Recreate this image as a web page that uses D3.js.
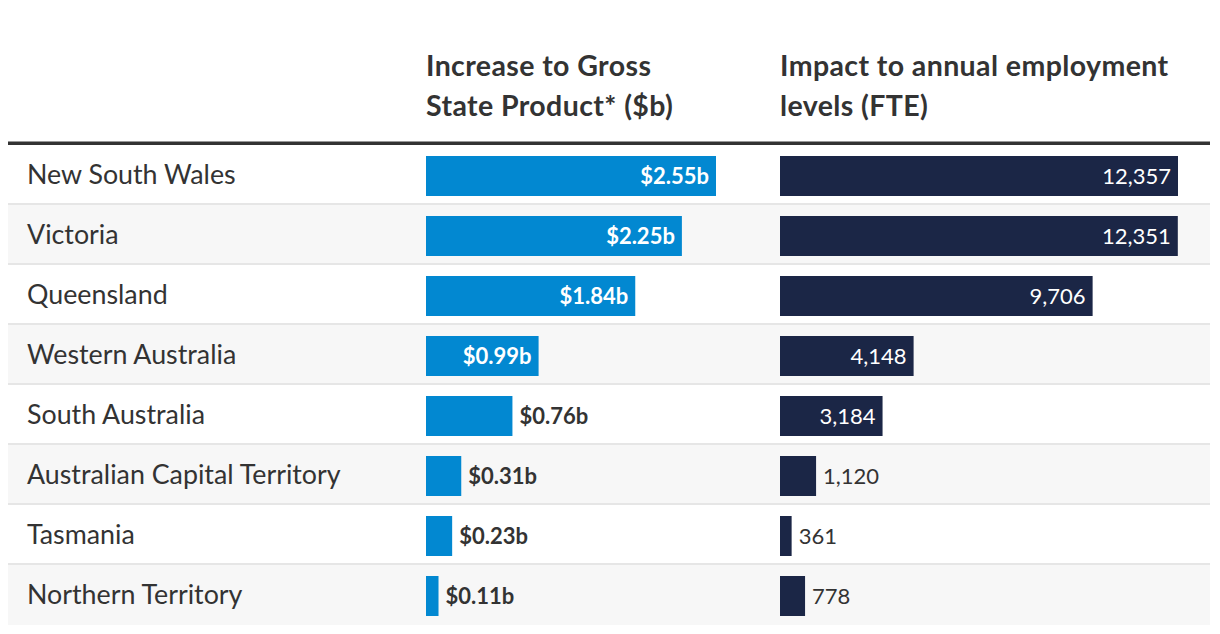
<!DOCTYPE html>
<html>
<head>
<meta charset="utf-8">
<script src="https://cdn.jsdelivr.net/npm/d3@7"></script>
<style>
  html, body { margin: 0; padding: 0; background: #fff; }
  svg { display: block; }
  text { font-family: Lato, "Noto Sans", sans-serif; }
</style>
</head>
<body>
<svg id="chart" width="1220" height="634"></svg>
<script>
// ---- Data ----
const states = ["New South Wales", "Victoria", "Queensland", "Western Australia",
                "South Australia", "Australian Capital Territory", "Tasmania", "Northern Territory"];
const gspValues = [2.55, 2.25, 1.84, 0.99, 0.76, 0.31, 0.23, 0.11];
const fteValues = [12357, 12351, 9706, 4148, 3184, 1120, 361, 778];
const gspTitle = ["Increase to Gross", "State Product* ($b)"];
const fteTitle = ["Impact to annual employment", "levels (FTE)"];

const rows = states.map((s, i) => ({ state: s, gsp: gspValues[i], fte: fteValues[i], i }));

// ---- Layout ----
const left = 8, right = 1210;
const rowTop = 145, rowH = 60;
const svg = d3.select("#chart");

const y = d3.scaleBand().domain(states).range([rowTop, rowTop + rowH * states.length]).padding(0);
const barY = d3.scaleBand().domain(states).range([rowTop, rowTop + rowH * states.length])
  .paddingInner(1/3).paddingOuter(1/6);

const xG = d3.scaleLinear().domain([0, d3.max(gspValues)]).range([426, 716]);
const xF = d3.scaleLinear().domain([0, d3.max(fteValues)]).range([780, 1178]);

// Row backgrounds
svg.append("g").selectAll("rect").data(rows).join("rect")
  .attr("x", left).attr("width", right - left)
  .attr("y", d => y(d.state)).attr("height", rowH)
  .attr("fill", d => d.i % 2 === 1 ? "#f7f7f7" : "#ffffff");

// Row separators
svg.append("g").selectAll("rect").data(rows.slice(0, -1)).join("rect")
  .attr("x", left).attr("width", right - left)
  .attr("y", d => y(d.state) + rowH - 2).attr("height", 2)
  .attr("fill", "#e6e6e6");

// Header line
svg.append("rect").attr("x", left).attr("width", right - left)
  .attr("y", 141.5).attr("height", 3.5).attr("fill", "#333333");

// Headers
function header(lines, x) {
  const t = svg.append("text").attr("x", x).attr("y", 76)
    .attr("fill", "#333333").attr("font-weight", 700).attr("font-size", 28.5)
    .attr("letter-spacing", 0.4);
  lines.forEach((l, k) => t.append("tspan").attr("x", x).attr("y", 76 + k * 40).text(l));
}
header(gspTitle, 426);
header(fteTitle, 780);

// State labels
svg.append("g").selectAll("text").data(rows).join("text")
  .attr("x", 27).attr("y", d => y(d.state) + 29 + 9.5)
  .attr("fill", "#333333").attr("font-size", 26.8)
  .text(d => d.state);

// GSP bars
svg.append("g").selectAll("rect").data(rows).join("rect")
  .attr("x", xG(0)).attr("y", d => barY(d.state) + 1)
  .attr("width", d => xG(d.gsp) - xG(0)).attr("height", barY.bandwidth())
  .attr("fill", "#0288d1");

// FTE bars
svg.append("g").selectAll("rect").data(rows).join("rect")
  .attr("x", xF(0)).attr("y", d => barY(d.state) + 1)
  .attr("width", d => xF(d.fte) - xF(0)).attr("height", barY.bandwidth())
  .attr("fill", "#1b2646");

// Value labels
const fmtG = d => "$" + d3.format(".2f")(d) + "b";
const fmtF = d3.format(",");

function valueLabels(scale, key, fmt, weight, size) {
  const g = svg.append("g");
  rows.forEach(d => {
    const w = scale(d[key]) - scale(0);
    const t = g.append("text")
      .attr("y", barY(d.state) + 1 + barY.bandwidth() / 2 + 7.5)
      .attr("font-size", size).attr("font-weight", weight)
      .text(fmt(d[key]));
    const tw = t.node().getComputedTextLength();
    if (w > tw + 20) {
      t.attr("x", scale(d[key]) - 7).attr("text-anchor", "end").attr("fill", "#ffffff");
    } else {
      t.attr("x", scale(d[key]) + 7).attr("text-anchor", "start").attr("fill", "#333333");
    }
  });
}
valueLabels(xG, "gsp", fmtG, 700, 22);
valueLabels(xF, "fte", fmtF, 400, 22);
</script>
</body>
</html>
